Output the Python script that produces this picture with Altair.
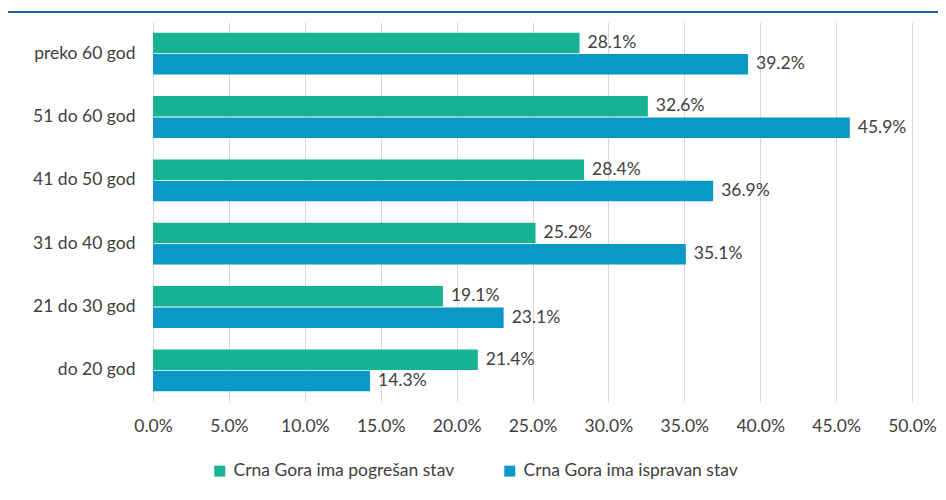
import altair as alt
import pandas as pd

categories = ["preko 60 god", "51 do 60 god", "41 do 50 god", "31 do 40 god", "21 do 30 god", "do 20 god"]
series = ["Crna Gora ima pogrešan stav", "Crna Gora ima ispravan stav"]
pogresan = [28.1, 32.6, 28.4, 25.2, 19.1, 21.4]
ispravan = [39.2, 45.9, 36.9, 35.1, 23.1, 14.3]
colors = ["#17b292", "#0a98c6"]
x_ticks = [0, 0.05, 0.10, 0.15, 0.20, 0.25, 0.30, 0.35, 0.40, 0.45, 0.50]

rows = []
for c, a, b in zip(categories, pogresan, ispravan):
    rows.append({"cat": c, "series": series[0], "v": a / 100})
    rows.append({"cat": c, "series": series[1], "v": b / 100})
df = pd.DataFrame(rows)

FONT = "Lato"
TXT = "#404040"
FS = 17.5

y_enc = alt.Y("cat:N", sort=categories, title=None,
              scale=alt.Scale(paddingInner=0.34, paddingOuter=0.17),
              axis=alt.Axis(domain=False, ticks=False, labelPadding=18,
                            labelFontSize=FS, labelColor=TXT, labelFont=FONT, labelLimit=0))
yoff = alt.YOffset("series:N", sort=series, scale=alt.Scale(paddingInner=0.04))

base = alt.Chart(df)

bars = base.mark_bar().encode(
    x=alt.X("v:Q", title=None,
            scale=alt.Scale(domain=[0, 0.5], nice=False),
            axis=alt.Axis(format=".1%", values=x_ticks, grid=True, gridColor="#d9d9d9",
                          domain=False, ticks=False, labelPadding=15,
                          labelFlush=False, labelOverlap=False, labelBound=False,
                          labelFontSize=FS, labelColor=TXT, labelFont=FONT)),
    y=y_enc,
    yOffset=yoff,
    color=alt.Color("series:N", sort=series,
                    scale=alt.Scale(domain=series, range=colors),
                    legend=alt.Legend(title=None, orient="none", direction="horizontal",
                                      legendX=58, legendY=440, symbolType="square",
                                      symbolSize=120, symbolStrokeWidth=0, labelLimit=0,
                                      labelFontSize=FS, labelColor=TXT, labelFont=FONT,
                                      columnPadding=46, labelOffset=5)),
)

labels = base.mark_text(align="left", baseline="middle", dx=8, fontSize=FS,
                        color=TXT, font=FONT).encode(
    x="v:Q",
    y=alt.Y("cat:N", sort=categories),
    yOffset=yoff,
    text=alt.Text("v:Q", format=".1%"),
)

frame = alt.Chart(pd.DataFrame({"k": [0]})).mark_rule(color="#1f5f9e", strokeWidth=2).encode(
    x=alt.value(-150), x2=alt.value(790), y=alt.value(-10)
)

chart = alt.layer(bars, labels, frame).properties(
    width=759, height=380,
    autosize=alt.AutoSizeParams(type="none"),
    padding={"left": 145, "top": 14, "right": 26, "bottom": 80},
    background="#ffffff",
).configure_view(stroke=None)

chart.save("out.html", embed_options={"renderer": "svg", "actions": False})
